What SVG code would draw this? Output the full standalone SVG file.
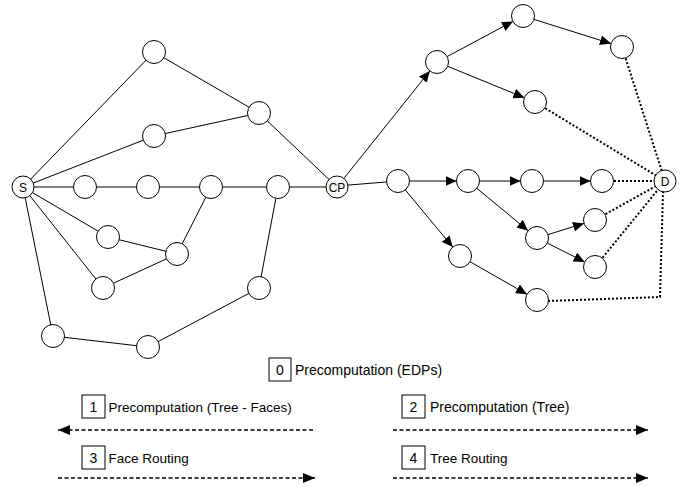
<svg xmlns="http://www.w3.org/2000/svg" width="686" height="487" viewBox="0 0 686 487">
<style>
.n{fill:#fff;stroke:#000;stroke-width:1}
.e{stroke:#000;stroke-width:1;fill:none}
.a{stroke:#000;stroke-width:1;fill:none;marker-end:url(#ah)}
.d{stroke:#000;stroke-width:2;stroke-dasharray:2 2;fill:none}
.l{stroke:#000;stroke-width:1.7;stroke-dasharray:4 2.5;fill:none}
.t{font-family:"Liberation Sans",Arial,Helvetica,sans-serif;font-size:12px;fill:#000}
.lt{font-family:"Liberation Sans",Arial,Helvetica,sans-serif;font-size:14px;fill:#000}
.ls{font-family:"Liberation Sans",Arial,Helvetica,sans-serif;font-size:13.5px;fill:#000}
.b{fill:#fff;stroke:#000;stroke-width:1}
</style>
<defs>
<marker id="ah" markerUnits="userSpaceOnUse" markerWidth="11" markerHeight="10" refX="11" refY="5" orient="auto"><path d="M0,0 L11,5 L0,10 z" fill="#000"/></marker>
<marker id="lh" markerUnits="userSpaceOnUse" markerWidth="12" markerHeight="10" refX="12" refY="5" orient="auto"><path d="M0,0 L12,5 L0,10 z" fill="#000"/></marker>
</defs>
<g id="connectors">
<line class="e" x1="23" y1="187" x2="154" y2="52"/>
<line class="e" x1="154" y1="52" x2="259" y2="113"/>
<line class="e" x1="259" y1="113" x2="337" y2="187"/>
<line class="e" x1="23" y1="187" x2="154" y2="136"/>
<line class="e" x1="154" y1="136" x2="259" y2="113"/>
<line class="e" x1="23" y1="187" x2="337" y2="187"/>
<line class="e" x1="23" y1="187" x2="108" y2="237"/>
<line class="e" x1="108" y1="237" x2="177" y2="254"/>
<line class="e" x1="177" y1="254" x2="211" y2="187"/>
<line class="e" x1="23" y1="187" x2="103" y2="288"/>
<line class="e" x1="103" y1="288" x2="177" y2="254"/>
<line class="e" x1="23" y1="187" x2="53" y2="336"/>
<line class="e" x1="53" y1="336" x2="148" y2="347"/>
<line class="e" x1="148" y1="347" x2="259" y2="288"/>
<line class="e" x1="259" y1="288" x2="278" y2="187"/>
<line class="e" x1="337" y1="186" x2="398" y2="181"/>
<line class="a" x1="343.9" y1="178.4" x2="429.8" y2="71"/>
<line class="a" x1="447.1" y1="56.6" x2="512.9" y2="21.4"/>
<line class="a" x1="534" y1="19.4" x2="611" y2="43.6"/>
<line class="a" x1="447.6" y1="66.3" x2="524.4" y2="97.7"/>
<line class="a" x1="409.5" y1="181" x2="456.5" y2="181"/>
<line class="a" x1="479.5" y1="181" x2="520.5" y2="181"/>
<line class="a" x1="543.5" y1="181" x2="590.5" y2="181"/>
<line class="a" x1="476.9" y1="188.3" x2="528.1" y2="230.7"/>
<line class="a" x1="548" y1="234.6" x2="584" y2="223.4"/>
<line class="a" x1="547.3" y1="243.1" x2="584.7" y2="261.9"/>
<line class="a" x1="405.3" y1="189.9" x2="452.7" y2="247.1"/>
<line class="a" x1="470" y1="261.7" x2="527" y2="294.3"/>
<line class="d" x1="622" y1="47" x2="665" y2="181"/>
<line class="d" x1="535" y1="102" x2="665" y2="181"/>
<line class="d" x1="602" y1="181" x2="665" y2="181"/>
<line class="d" x1="595" y1="220" x2="665" y2="181"/>
<line class="d" x1="595" y1="267" x2="665" y2="181"/>
<polyline class="d" points="548,301 660,297 663,192"/>
</g>
<g id="S"><circle class="n" cx="23" cy="187" r="11"/><text class="t" x="23" y="191.5" text-anchor="middle">S</text></g>
<g id="n1"><circle class="n" cx="154" cy="52" r="11.5"/></g>
<g id="n2"><circle class="n" cx="259" cy="113" r="11.5"/></g>
<g id="n3"><circle class="n" cx="154" cy="136" r="11.5"/></g>
<g id="n4"><circle class="n" cx="85" cy="187" r="11.5"/></g>
<g id="n5"><circle class="n" cx="148" cy="187" r="11.5"/></g>
<g id="n6"><circle class="n" cx="211" cy="187" r="11.5"/></g>
<g id="n7"><circle class="n" cx="278" cy="187" r="11.5"/></g>
<g id="n8"><circle class="n" cx="108" cy="237" r="11.5"/></g>
<g id="n9"><circle class="n" cx="177" cy="254" r="11.5"/></g>
<g id="n10"><circle class="n" cx="103" cy="288" r="11.5"/></g>
<g id="n11"><circle class="n" cx="259" cy="288" r="11.5"/></g>
<g id="n12"><circle class="n" cx="53" cy="336" r="11.5"/></g>
<g id="n13"><circle class="n" cx="148" cy="347" r="11.5"/></g>
<g id="CP"><circle class="n" cx="337" cy="187" r="11"/><text class="t" x="337" y="191.5" text-anchor="middle">CP</text></g>
<g id="A"><circle class="n" cx="437" cy="62" r="11.5"/></g>
<g id="B"><circle class="n" cx="523" cy="16" r="11.5"/></g>
<g id="C"><circle class="n" cx="622" cy="47" r="11.5"/></g>
<g id="E"><circle class="n" cx="535" cy="102" r="11.5"/></g>
<g id="F"><circle class="n" cx="398" cy="181" r="11.5"/></g>
<g id="G"><circle class="n" cx="468" cy="181" r="11.5"/></g>
<g id="H"><circle class="n" cx="532" cy="181" r="11.5"/></g>
<g id="I"><circle class="n" cx="602" cy="181" r="11.5"/></g>
<g id="J"><circle class="n" cx="595" cy="220" r="11.5"/></g>
<g id="K"><circle class="n" cx="537" cy="238" r="11.5"/></g>
<g id="L"><circle class="n" cx="595" cy="267" r="11.5"/></g>
<g id="M"><circle class="n" cx="460" cy="256" r="11.5"/></g>
<g id="N"><circle class="n" cx="537" cy="300" r="11.5"/></g>
<g id="D"><circle class="n" cx="665" cy="181" r="11"/><text class="t" x="665" y="185.5" text-anchor="middle">D</text></g>
<g id="legend0"><rect class="b" x="269" y="358" width="22" height="23"/><text class="lt" x="280" y="375" text-anchor="middle">0</text><text class="lt" x="295" y="375">Precomputation (EDPs)</text></g>
<g id="legend1"><rect class="b" x="82" y="395" width="23" height="23"/><text class="lt" x="93.5" y="412" text-anchor="middle">1</text><text class="ls" x="108.5" y="412">Precomputation (Tree - Faces)</text><line class="l" x1="313" y1="430" x2="58" y2="430" style="marker-end:url(#lh)"/></g>
<g id="legend2"><rect class="b" x="402" y="395" width="23" height="23"/><text class="lt" x="413.5" y="412" text-anchor="middle">2</text><text class="lt" x="430" y="412">Precomputation (Tree)</text><line class="l" x1="393" y1="430" x2="648" y2="430" style="marker-end:url(#lh)"/></g>
<g id="legend3"><rect class="b" x="82" y="446" width="23" height="23"/><text class="lt" x="93.5" y="463" text-anchor="middle">3</text><text class="ls" x="108.5" y="463">Face Routing</text><line class="l" x1="58" y1="478" x2="315" y2="478" style="marker-end:url(#lh)"/></g>
<g id="legend4"><rect class="b" x="402" y="446" width="23" height="23"/><text class="lt" x="413.5" y="463" text-anchor="middle">4</text><text class="ls" x="430" y="463">Tree Routing</text><line class="l" x1="393" y1="478" x2="648" y2="478" style="marker-end:url(#lh)"/></g>
</svg>
